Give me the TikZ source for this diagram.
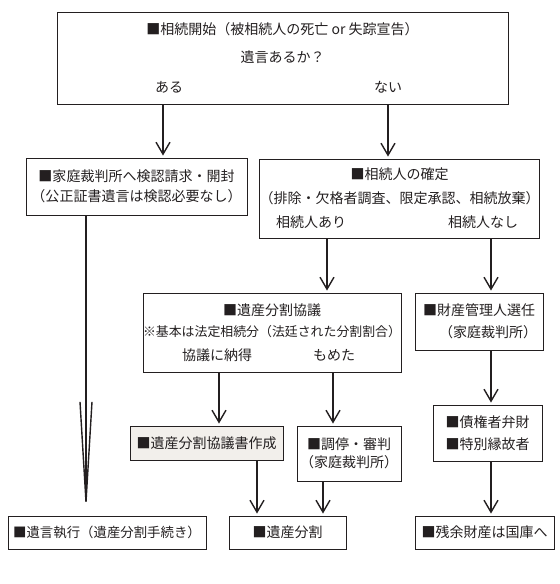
\documentclass[tikz,border=0pt]{standalone}
\usepackage{fontspec}
\setmainfont{Noto Sans CJK JP}
\usepackage{xcolor}
\usepackage{tikz}
\usetikzlibrary{arrows.meta,calc}

\definecolor{ink}{HTML}{231F20}
\definecolor{paper}{HTML}{F2EFEB}

\begin{document}
\begin{tikzpicture} [x=1bp, y=-1bp, text=ink,
		font=\fontsize{14bp}{21bp}\selectfont,
		box/.style={draw=ink, line width=0.9bp, inner sep=0pt, align=center},
		arr/.style={draw=ink, line width=1.4bp, -{Straight Barb[length=12bp,width=14bp]}, shorten >=2bp}]
		
		\useasboundingbox (0,0) rectangle (560,584);
		
		\begin{scope}
		
		\node (Start) [box, minimum width=451bp, minimum height=92bp] at (282.5,58) {■相続開始（被相続人の死亡 or 失踪宣告）\\[7bp] 遺言あるか？\\[9bp] \makebox[247bp]{ある\hfill ない}\hspace*{8bp}};
		
		\node (Kennin) [box, minimum width=221bp, minimum height=57bp] at (136.5,186.5) {■家庭裁判所へ検認請求・開封\\[-1bp] （公正証書遺言は検認必要なし）};
		
		\node (Kakutei) [box, minimum width=279bp, minimum height=79bp] at (399.5,198.5) {■相続人の確定\\[3bp] （排除・欠格者調査、限定承認、相続放棄）\\[3bp] \makebox[242bp]{相続人あり\hfill 相続人なし}\hspace*{5bp}};
		
		\end{scope}
		
		
		\begin{scope}
		
		\node (Kyogi) [box, minimum width=258bp, minimum height=79bp] at (272,332.5) {■遺産分割協議\\ {\fontsize{12.9bp}{21bp}\selectfont ※基本は法定相続分（法廷された分割割合）}\\[3bp] \makebox[173bp]{協議に納得\hfill もめた}\hspace*{7bp}};
		
		\node (Kanri) [box, minimum width=128bp, minimum height=57bp] at (479,321.5) {■財産管理人選任\\[1bp] \hspace*{18bp}（家庭裁判所）};
		
		\node (Shosho) [box, fill=paper, minimum width=153bp, minimum height=34bp] at (206.5,443) {■遺産分割協議書作成};
		
		\node (Chotei) [box, minimum width=104bp, minimum height=55bp] at (349,453.5) {■調停・審判\\[-3bp] （家庭裁判所）};
		
		\node (Saiken) [box, align=left, minimum width=109bp, minimum height=56bp] at (487.5,433) {■債権者弁財\\[1bp] ■特別縁故者};
		
		\end{scope}
		
		
		\begin{scope}			% bottom row
		
		\node (Shikko) [box, minimum width=198bp, minimum height=33bp] at (107,532.5) {\fontsize{13.4bp}{21bp}\selectfont ■遺言執行（遺産分割手続き）};
		
		\node (Bunkatsu) [box, minimum width=117bp, minimum height=33bp] at (287.5,532.5) {■遺産分割};
		
		\node (Zanyo) [box, minimum width=139bp, minimum height=33bp] at (484.5,532.5) {■残余財産は国庫へ};
		
		\end{scope}
		
		
		% arrow columns
		\coordinate (c_aru) at (163,0);
		\coordinate (c_nai) at (388,0);
		\coordinate (c_ari) at (327,0);
		\coordinate (c_nashi) at (491,0);
		\coordinate (c_nattoku) at (219,0);
		\coordinate (c_mometa) at (333,0);
		\coordinate (c_sho) at (257,0);
		\coordinate (c_cho) at (323,0);
		\coordinate (c_left) at (86,0);
		
		\draw [arr] (Start.south -| c_aru) to (Kennin.north -| c_aru);
		
		\draw [arr] (Start.south -| c_nai) to (Kakutei.north -| c_nai);
		
		\draw [arr] (Kakutei.south -| c_ari) to (Kyogi.north -| c_ari);
		
		\draw [arr] (Kakutei.south -| c_nashi) to (Kanri.north -| c_nashi);
		
		\draw [arr] (Kyogi.south -| c_nattoku) to (Shosho.north -| c_nattoku);
		
		\draw [arr] (Kyogi.south -| c_mometa) to (Chotei.north -| c_mometa);
		
		\draw [arr] (Kanri.south -| c_nashi) to (Saiken.north -| c_nashi);
		
		\draw [arr] (Shosho.south -| c_sho) to (Bunkatsu.north -| c_sho);
		
		\draw [arr] (Chotei.south -| c_cho) to (Bunkatsu.north -| c_cho);
		
		\draw [arr] (Saiken.south -| c_nashi) to (Zanyo.north -| c_nashi);
		
		\draw [draw=ink, line width=1.4bp, -{Straight Barb[length=100bp,width=12bp]}, shorten >=2bp] (Kennin.south -| c_left) to (Shikko.north -| c_left);
		
\end{tikzpicture}
\end{document}
